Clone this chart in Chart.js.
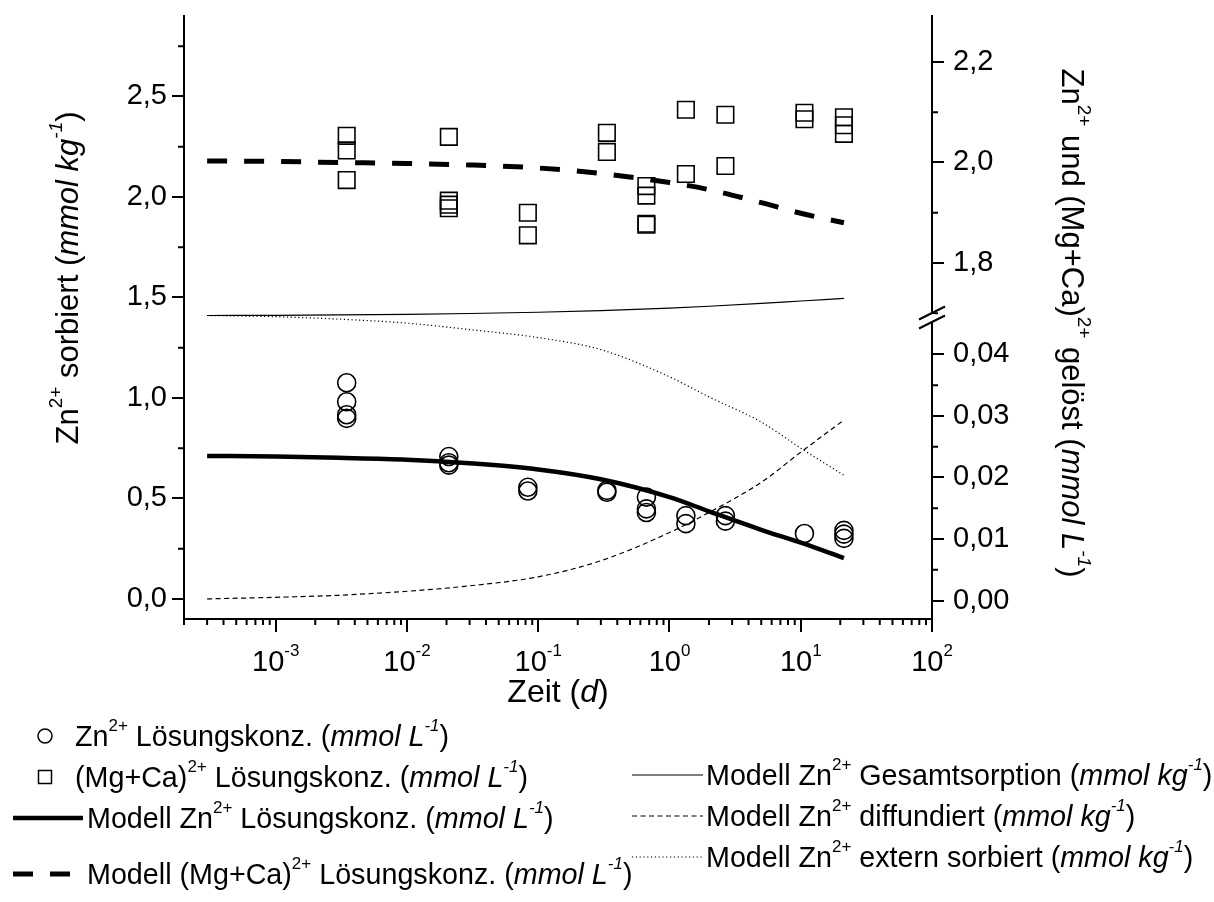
<!DOCTYPE html>
<html>
<head>
<meta charset="utf-8">
<script src="https://cdn.jsdelivr.net/npm/chart.js@4.4.1/dist/chart.umd.min.js"></script>
<style>
  html, body { margin: 0; padding: 0; background: #fff; }
  #wrap { width: 1214px; height: 902px; position: relative; }
</style>
</head>
<body>
<div id="wrap"><canvas id="kinetik"></canvas></div>
<script>
// Messwerte: Zeit in d
var znTime = [0.003472, 0.003472, 0.003472, 0.003472,
  0.02083, 0.02083, 0.02083,
  0.08333, 0.08333,
  0.3333, 0.3333,
  0.6667, 0.6667, 0.6667,
  1.333, 1.333,
  2.667, 2.667,
  10.67,
  21.33, 21.33, 21.33];
var znConc = [0.0354, 0.0323, 0.0302, 0.0296,
  0.0234, 0.0224, 0.0220,
  0.0184, 0.0178,
  0.0179, 0.0176,
  0.0168, 0.0149, 0.0143,
  0.0138, 0.0125,
  0.0138, 0.0129,
  0.0109,
  0.0114, 0.0108, 0.0101];

var mgcaTime = [0.003472, 0.003472, 0.003472,
  0.02083, 0.02083, 0.02083, 0.02083,
  0.08333, 0.08333,
  0.3333, 0.3333,
  0.6667, 0.6667, 0.6667, 0.6667,
  1.333, 1.333,
  2.667, 2.667,
  10.67, 10.67,
  21.33, 21.33, 21.33];
var mgcaConc = [2.053, 2.024, 1.965,
  2.051, 1.924, 1.916, 1.909,
  1.900, 1.855,
  2.059, 2.021,
  1.953, 1.934, 1.878, 1.876,
  2.105, 1.977,
  2.095, 1.993,
  2.099, 2.086,
  2.090, 2.074, 2.057];

// Modellkurven
var modelTime  = [0.0003, 0.001, 0.003, 0.01, 0.03, 0.1, 0.3, 1, 2, 5, 10, 21.33];
var modelZn    = [0.0235, 0.0234, 0.0232, 0.0229, 0.0223, 0.0213, 0.0197, 0.0168, 0.0145, 0.0115, 0.0094, 0.0069];
var modelMgCa  = [2.003, 2.002, 2.000, 1.998, 1.995, 1.989, 1.978, 1.960, 1.946, 1.920, 1.899, 1.880];
var modelTotal = [1.410, 1.411, 1.413, 1.416, 1.420, 1.426, 1.434, 1.447, 1.456, 1.470, 1.482, 1.495];
var modelDiff  = [0.000, 0.008, 0.018, 0.038, 0.065, 0.110, 0.190, 0.330, 0.430, 0.580, 0.730, 0.890];
var modelExt   = [1.410, 1.404, 1.392, 1.372, 1.340, 1.300, 1.240, 1.105, 1.005, 0.880, 0.750, 0.615];

// Achsenbeschriftung
var xTicks = [0.001, 0.01, 0.1, 1, 10, 100];
var xTickExp = ['-3', '-2', '-1', '0', '1', '2'];
var leftTicks = [0, 0.5, 1, 1.5, 2, 2.5];
var rightTopTicks = [1.8, 2.0, 2.2];
var rightLowTicks = [0, 0.01, 0.02, 0.03, 0.04];

var FONT = "'Liberation Sans', Arial, Helvetica, sans-serif";
Chart.defaults.font.family = FONT;
Chart.defaults.color = '#000';

function xy(xs, ys) {
  var out = [];
  for (var i = 0; i < xs.length; i++) out.push({x: xs[i], y: ys[i]});
  return out;
}

function partFont(f, size) {
  var s = f.indexOf('s') >= 0 ? Math.round(size * 0.6) : size;
  return (f.indexOf('i') >= 0 ? 'italic ' : '') + s + 'px ' + FONT;
}

// Text mit Hochstellung / Kursiv
function drawRich(ctx, parts, x, y, size, align) {
  var w = 0, i;
  for (i = 0; i < parts.length; i++) {
    ctx.font = partFont(parts[i][1], size);
    w += ctx.measureText(parts[i][0]).width;
  }
  var cx = align === 'center' ? x - w / 2 : x;
  ctx.textAlign = 'left';
  ctx.textBaseline = 'alphabetic';
  for (i = 0; i < parts.length; i++) {
    var f = parts[i][1];
    ctx.font = partFont(f, size);
    ctx.fillText(parts[i][0], cx, f.indexOf('s') >= 0 ? y - size * 0.52 : y);
    cx += ctx.measureText(parts[i][0]).width;
  }
}

function noPad(s) {
  s.paddingTop = 0; s.paddingBottom = 0; s.paddingLeft = 0; s.paddingRight = 0;
}

var axisGrid = {display: true, drawOnChartArea: false, drawTicks: true, tickLength: 12,
  tickWidth: 2, tickColor: '#000', color: '#000', lineWidth: 2};
var axisBorder = {display: true, color: '#000', width: 2};

var extraDraw = {
  id: 'extraDraw',
  afterDraw: function(chart) {
    var ctx = chart.ctx;
    var sx = chart.scales.x, sl = chart.scales.y, su = chart.scales.yMg, sz = chart.scales.yZn;
    var i, k, p, v;
    ctx.save();
    ctx.strokeStyle = '#000';
    ctx.fillStyle = '#000';
    ctx.lineWidth = 2;

    // kleine Striche
    ctx.beginPath();
    for (k = -4; k <= 1; k++) {
      for (i = 2; i <= 9; i++) {
        v = i * Math.pow(10, k);
        if (v < sx.min || v > sx.max) continue;
        p = sx.getPixelForValue(v);
        ctx.moveTo(p, sx.top); ctx.lineTo(p, sx.top + 6);
      }
    }
    for (v = 0.25; v < 2.9; v += 0.5) {
      p = sl.getPixelForValue(v);
      ctx.moveTo(sl.right, p); ctx.lineTo(sl.right - 6, p);
    }
    [1.7, 1.9, 2.1].forEach(function(m) {
      p = su.getPixelForValue(m);
      ctx.moveTo(su.left, p); ctx.lineTo(su.left + 6, p);
    });
    [0.005, 0.015, 0.025, 0.035].forEach(function(m) {
      p = sz.getPixelForValue(m);
      ctx.moveTo(sz.left, p); ctx.lineTo(sz.left + 6, p);
    });
    ctx.stroke();

    // Achsenbruch
    var bx = su.left, by = su.bottom;
    ctx.fillStyle = '#fff';
    ctx.fillRect(bx - 3, by - 3.5, 6, 7);
    ctx.beginPath();
    ctx.moveTo(bx - 13, by - 4.5 + 6.5); ctx.lineTo(bx + 13, by - 4.5 - 6.5);
    ctx.moveTo(bx - 13, by + 4.5 + 6.5); ctx.lineTo(bx + 13, by + 4.5 - 6.5);
    ctx.stroke();
    ctx.fillStyle = '#000';

    // x-Beschriftung 10^n
    for (i = 0; i < xTicks.length; i++) {
      drawRich(ctx, [['10', ''], [xTickExp[i], 's']], sx.getPixelForValue(xTicks[i]), 671, 29, 'center');
    }

    // Achsentitel
    drawRich(ctx, [['Zeit (', ''], ['d', 'i'], [')', '']], (sx.left + sx.right) / 2, 702, 32, 'center');

    ctx.save();
    ctx.translate(78, 278);
    ctx.rotate(-Math.PI / 2);
    drawRich(ctx, [['Zn', ''], ['2+', 's'], [' sorbiert (', ''], ['mmol kg', 'i'], ['-1', 'si'], [')', '']], 0, 0, 31, 'center');
    ctx.restore();

    ctx.save();
    ctx.translate(1062, 323);
    ctx.rotate(Math.PI / 2);
    drawRich(ctx, [['Zn', ''], ['2+', 's'], [' und (Mg+Ca)', ''], ['2+', 's'], [' gelöst (', ''],
      ['mmol L', 'i'], ['-1', 'si'], [')', '']], 0, 0, 31, 'center');
    ctx.restore();

    // Legende
    var slots = [[45, 45, 75, 736], [45, 45, 75, 777], [13, 83, 87, 818], [13, 83, 87, 874],
      [632, 703, 706, 775], [632, 703, 706, 816], [632, 703, 706, 857]];
    chart.data.datasets.forEach(function(ds, n) {
      var s = slots[n];
      ctx.save();
      ctx.strokeStyle = '#000';
      if (ds.showLine === false) {
        ctx.lineWidth = 1.5;
        ctx.beginPath();
        if (ds.pointStyle === 'circle') {
          ctx.arc(s[0], s[3], 7, 0, Math.PI * 2);
        } else {
          ctx.rect(s[0] - 6.5, s[3] - 6.5, 13, 13);
        }
        ctx.stroke();
      } else {
        ctx.lineWidth = ds.borderWidth;
        ctx.setLineDash(ds.borderDash || []);
        ctx.beginPath();
        ctx.moveTo(s[0], s[3]); ctx.lineTo(s[1], s[3]);
        ctx.stroke();
      }
      ctx.restore();
      drawRich(ctx, ds.legendText, s[2], s[3] + 10, 28.7, 'left');
    });
    ctx.restore();
  }
};

var unitL = [['mmol L', 'i'], ['-1', 'si'], [')', '']];
var unitKg = [['mmol kg', 'i'], ['-1', 'si'], [')', '']];

new Chart(document.getElementById('kinetik'), {
  type: 'scatter',
  data: {
    datasets: [{
      label: 'Zn Lösung',
      data: xy(znTime, znConc),
      yAxisID: 'yZn',
      showLine: false,
      pointStyle: 'circle',
      pointRadius: 9,
      pointBorderWidth: 1.6,
      pointBorderColor: '#000',
      pointBackgroundColor: 'rgba(0,0,0,0)',
      legendText: [['Zn', ''], ['2+', 's'], [' Lösungskonz. (', '']].concat(unitL)
    }, {
      label: 'MgCa Lösung',
      data: xy(mgcaTime, mgcaConc),
      yAxisID: 'yMg',
      showLine: false,
      pointStyle: 'rect',
      pointRadius: 11.7,
      pointBorderWidth: 1.6,
      pointBorderColor: '#000',
      pointBackgroundColor: 'rgba(0,0,0,0)',
      legendText: [['(Mg+Ca)', ''], ['2+', 's'], [' Lösungskonz. (', '']].concat(unitL)
    }, {
      label: 'Modell Zn Lösung',
      data: xy(modelTime, modelZn),
      yAxisID: 'yZn',
      showLine: true,
      pointRadius: 0,
      borderColor: '#000',
      borderWidth: 4.5,
      cubicInterpolationMode: 'monotone',
      legendText: [['Modell Zn', ''], ['2+', 's'], [' Lösungskonz. (', '']].concat(unitL)
    }, {
      label: 'Modell MgCa Lösung',
      data: xy(modelTime, modelMgCa),
      yAxisID: 'yMg',
      showLine: true,
      pointRadius: 0,
      borderColor: '#000',
      borderWidth: 5,
      borderDash: [20, 17],
      cubicInterpolationMode: 'monotone',
      legendText: [['Modell (Mg+Ca)', ''], ['2+', 's'], [' Lösungskonz. (', '']].concat(unitL)
    }, {
      label: 'Gesamtsorption',
      data: xy(modelTime, modelTotal),
      yAxisID: 'y',
      showLine: true,
      pointRadius: 0,
      borderColor: '#000',
      borderWidth: 1.2,
      cubicInterpolationMode: 'monotone',
      legendText: [['Modell Zn', ''], ['2+', 's'], [' Gesamtsorption (', '']].concat(unitKg)
    }, {
      label: 'diffundiert',
      data: xy(modelTime, modelDiff),
      yAxisID: 'y',
      showLine: true,
      pointRadius: 0,
      borderColor: '#000',
      borderWidth: 1.2,
      borderDash: [5, 3.5],
      cubicInterpolationMode: 'monotone',
      legendText: [['Modell Zn', ''], ['2+', 's'], [' diffundiert (', '']].concat(unitKg)
    }, {
      label: 'extern sorbiert',
      data: xy(modelTime, modelExt),
      yAxisID: 'y',
      showLine: true,
      pointRadius: 0,
      borderColor: '#000',
      borderWidth: 1.2,
      borderDash: [1.2, 2.6],
      cubicInterpolationMode: 'monotone',
      legendText: [['Modell Zn', ''], ['2+', 's'], [' extern sorbiert (', '']].concat(unitKg)
    }]
  },
  plugins: [extraDraw],
  options: {
    responsive: true,
    maintainAspectRatio: false,
    animation: false,
    devicePixelRatio: 1,
    layout: {padding: {top: 16, left: 0, right: 0, bottom: 0}},
    plugins: {legend: {display: false}, tooltip: {enabled: false}},
    scales: {
      x: {
        type: 'logarithmic',
        position: 'bottom',
        min: 0.0002,
        max: 100,
        grid: Object.assign({}, axisGrid, {tickLength: 13}),
        border: axisBorder,
        ticks: {display: false},
        afterBuildTicks: function(s) { s.ticks = xTicks.map(function(v) { return {value: v}; }); },
        afterFit: function(s) { s.height = 283; noPad(s); }
      },
      y: {
        type: 'linear',
        position: 'left',
        min: -0.1,
        max: 2.9,
        grid: axisGrid,
        border: axisBorder,
        ticks: {font: {size: 29}, color: '#000', padding: 5,
          callback: function(v) { return v.toFixed(1).replace('.', ','); }},
        afterBuildTicks: function(s) { s.ticks = leftTicks.map(function(v) { return {value: v}; }); },
        afterFit: function(s) { s.width = 184; noPad(s); }
      },
      yMg: {
        type: 'linear',
        position: 'right',
        stack: 'rechts',
        stackWeight: 1,
        min: 1.6915,
        max: 2.2915,
        grid: axisGrid,
        border: axisBorder,
        ticks: {font: {size: 29}, color: '#000', padding: 9,
          callback: function(v) { return v.toFixed(1).replace('.', ','); }},
        afterBuildTicks: function(s) { s.ticks = rightTopTicks.map(function(v) { return {value: v}; }); },
        afterFit: function(s) { s.width = 282; noPad(s); }
      },
      yZn: {
        type: 'linear',
        position: 'right',
        stack: 'rechts',
        stackWeight: 1,
        min: -0.003,
        max: 0.046,
        grid: axisGrid,
        border: axisBorder,
        ticks: {font: {size: 29}, color: '#000', padding: 9,
          callback: function(v) { return v.toFixed(2).replace('.', ','); }},
        afterBuildTicks: function(s) { s.ticks = rightLowTicks.map(function(v) { return {value: v}; }); },
        afterFit: function(s) { s.width = 282; noPad(s); }
      }
    }
  }
});
</script>
</body>
</html>
